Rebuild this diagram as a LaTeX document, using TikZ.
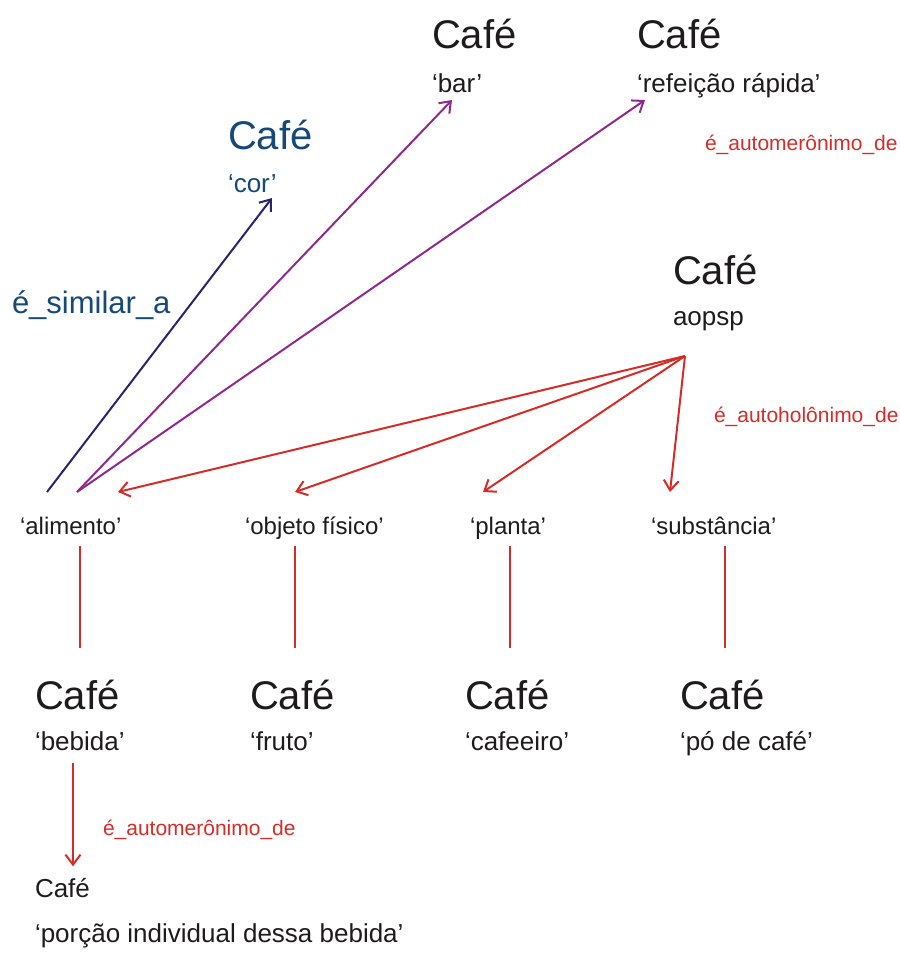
\documentclass[tikz,border=0pt]{standalone}
\usepackage{fontspec}
\setmainfont{Liberation Sans}
\usepackage{tikz}
\usetikzlibrary{arrows.meta,positioning}
\definecolor{inkgray}{RGB}{30,27,28}
\definecolor{simblue}{RGB}{22,72,120}
\definecolor{simnavy}{RGB}{40,36,112}
\definecolor{merpurple}{RGB}{142,42,142}
\definecolor{holred}{RGB}{214,44,40}

\begin{document}
\begin{tikzpicture}[>={Straight Barb[length=10bp,width=15bp]}, line width=2bp,
	big/.style={anchor=base west, inner sep=0pt, text=inkgray, font=\fontsize{40bp}{40bp}\selectfont},
	sub/.style={anchor=base west, inner sep=0pt, text=inkgray, font=\fontsize{26bp}{26bp}\selectfont},
	mid/.style={anchor=base west, inner sep=0pt, text=inkgray, font=\fontsize{24bp}{24bp}\selectfont},
	rel/.style={anchor=base west, inner sep=0pt, text=holred, font=\fontsize{21bp}{21bp}\selectfont}]
	\useasboundingbox (0bp,0bp) rectangle (900bp,-969bp);

	% sentidos de cima
	\node (cbar) at (431bp,-48bp) [big] {Café};
	\node (sbar) at (431bp,-92bp) [sub] {‘bar’};
	\node (cref) at (636bp,-48bp) [big] {Café};
	\node (sref) at (636bp,-92bp) [sub] {‘refeição rápida’};
	\node (mer1) at (704bp,-150bp) [rel] {é\_automerônimo\_de};
	\node (ccor) at (227bp,-149bp) [big, text=simblue] {Café};
	\node (scor) at (227bp,-192bp) [sub, text=simblue] {‘cor’};
	\node (sim) at (11bp,-313bp) [big, text=simblue, font=\fontsize{31bp}{31bp}\selectfont] {é\_similar\_a};
	\node (cao) at (672bp,-284bp) [big] {Café};
	\node (sao) at (672bp,-325bp) [sub] {aopsp};
	\node (hol) at (713bp,-422bp) [rel] {é\_autoholônimo\_de};

	% sentidos do meio
	\node (m1) at (19bp,-534bp) [mid] {‘alimento’};
	\node (m2) at (244bp,-534bp) [mid] {‘objeto físico’};
	\node (m3) at (469bp,-534bp) [mid] {‘planta’};
	\node (m4) at (650bp,-534bp) [mid] {‘substância’};

	% sentidos de baixo
	\node (c1) at (34bp,-709bp) [big] {Café};
	\node (s1) at (34bp,-750bp) [sub] {‘bebida’};
	\node (c2) at (249bp,-709bp) [big] {Café};
	\node (s2) at (249bp,-750bp) [sub] {‘fruto’};
	\node (c3) at (464bp,-709bp) [big] {Café};
	\node (s3) at (464bp,-750bp) [sub] {‘cafeeiro’};
	\node (c4) at (679bp,-709bp) [big] {Café};
	\node (s4) at (679bp,-750bp) [sub] {‘pó de café’};
	\node (mer2) at (102bp,-835bp) [rel] {é\_automerônimo\_de};
	\node (c5) at (34bp,-897bp) [sub] {Café};
	\node (s5) at (34bp,-942bp) [sub] {‘porção individual dessa bebida’};

	\coordinate (a0) at (47bp,-492bp);
	\coordinate (a1) at (77bp,-492bp);
	\coordinate (h0) at (685bp,-356bp);
	\coordinate (tcor) at (272bp,-198bp);
	\coordinate (tbar) at (452bp,-100bp);
	\coordinate (tref) at (645bp,-100bp);
	\coordinate (t1) at (118bp,-492bp);
	\coordinate (t2) at (295bp,-492bp);
	\coordinate (t3) at (483bp,-492bp);
	\coordinate (t4) at (670bp,-492bp);

	\draw [->, simnavy] (a0) to (tcor);
	\draw [->, merpurple] (a1) to (tbar);
	\draw [->, merpurple] (a1) to (tref);

	\draw [->, holred] (h0) to (t1);
	\draw [->, holred] (h0) to (t2);
	\draw [->, holred] (h0) to (t3);
	\draw [->, holred] (h0) to (t4);

	\draw [holred] (80bp,-546bp) -- (80bp,-648bp);
	\draw [holred] (295bp,-546bp) -- (295bp,-648bp);
	\draw [holred] (510bp,-546bp) -- (510bp,-648bp);
	\draw [holred] (725bp,-546bp) -- (725bp,-648bp);

	\draw [->, holred] (s1.south -| 73bp,0) ++(0,-12bp) -- ++(0,-103bp);
\end{tikzpicture}
\end{document}
